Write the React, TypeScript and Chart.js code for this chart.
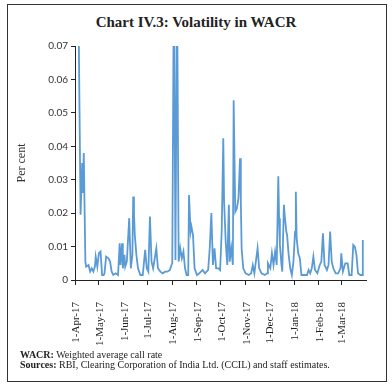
import React, { useEffect, useRef } from "react";
import { Chart, registerables } from "chart.js";

Chart.register(...registerables);

// Day offsets from 1-Apr-2017
const dayOffsets = [
  4, 7, 9, 10, 11, 13, 14, 17, 19, 21, 23, 25, 26, 28, 30, 32, 34, 36, 37, 39,
  42, 44, 46, 48, 51, 54, 56, 57, 59, 60, 62, 63, 65, 68, 70, 72, 73, 74, 75, 77,
  79, 82, 85, 88, 90, 92, 94, 96, 98, 102, 104, 107, 110, 113, 116, 119, 121, 122, 124, 126,
  128, 130, 132, 134, 136, 138, 140, 142, 143, 145, 146, 148, 150, 153, 156, 160, 163, 167, 169, 171,
  173, 175, 177, 180, 182, 184, 186, 187, 189, 191, 193, 194, 196, 198, 199, 201, 203, 205, 207, 208,
  209, 211, 214, 218, 221, 223, 225, 229, 231, 234, 238, 241, 242, 245, 247, 249, 251, 253, 255, 256,
  257, 259, 260, 262, 263, 265, 266, 268, 270, 272, 274, 276, 277, 278, 280, 282, 284, 288, 291, 293,
  295, 297, 299, 301, 304, 307, 309, 311, 313, 316, 318, 320, 322, 324, 327, 330, 333, 334, 336, 339,
  342, 344, 347, 349, 351, 353, 355, 358, 360, 361,
];

// Volatility in WACR (per cent)
const wacrVolatility = [
  0.09, 0.0195, 0.035, 0.026, 0.038, 0.0055, 0.004, 0.0045, 0.0025, 0.0035, 0.0025, 0.004, 0.007, 0.004, 0.008, 0.0085, 0.0015, 0.0015, 0.002, 0.007,
  0.0065, 0.0055, 0.0025, 0.0015, 0.002, 0.0015, 0.011, 0.0045, 0.011, 0.0035, 0.0075, 0.004, 0.0055, 0.0185, 0.0035, 0.0075, 0.025, 0.02, 0.0135, 0.0075,
  0.0035, 0.0015, 0.0015, 0.009, 0.0035, 0.0025, 0.019, 0.0055, 0.0035, 0.0095, 0.0035, 0.0025, 0.002, 0.0025, 0.0025, 0.003, 0.0045, 0.005, 0.09, 0.006,
  0.09, 0.0055, 0.0095, 0.0065, 0.0085, 0.0035, 0.0015, 0.0015, 0.0254, 0.0145, 0.016, 0.0135, 0.0035, 0.0015, 0.002, 0.003, 0.002, 0.003, 0.0095, 0.02,
  0.0045, 0.0095, 0.0035, 0.0035, 0.003, 0.0145, 0.0424, 0.0235, 0.0115, 0.0045, 0.0225, 0.0055, 0.0095, 0.0045, 0.0538, 0.0204, 0.0214, 0.0244, 0.0364, 0.0235,
  0.0095, 0.0035, 0.002, 0.0015, 0.002, 0.0045, 0.002, 0.0095, 0.0035, 0.002, 0.0015, 0.002, 0.005, 0.0035, 0.008, 0.0045, 0.0085, 0.0045, 0.031, 0.0185,
  0.0105, 0.0045, 0.0025, 0.0225, 0.0195, 0.0145, 0.0135, 0.0075, 0.0035, 0.0015, 0.0055, 0.0145, 0.0264, 0.0125, 0.008, 0.0065, 0.0015, 0.0015, 0.0015, 0.003,
  0.002, 0.0035, 0.007, 0.003, 0.002, 0.0045, 0.0055, 0.014, 0.0045, 0.003, 0.0045, 0.0145, 0.0055, 0.0035, 0.002, 0.002, 0.0035, 0.008, 0.0025, 0.005,
  0.005, 0.0015, 0.0015, 0.0105, 0.01, 0.0075, 0.002, 0.0015, 0.0015, 0.012,
];

const monthOffsets = [0, 30, 61, 91, 122, 153, 183, 214, 244, 275, 306, 334];
const monthLabels = [
  "1-Apr-17", "1-May-17", "1-Jun-17", "1-Jul-17", "1-Aug-17", "1-Sep-17",
  "1-Oct-17", "1-Nov-17", "1-Dec-17", "1-Jan-18", "1-Feb-18", "1-Mar-18",
];
const yTicks = [0, 0.01, 0.02, 0.03, 0.04, 0.05, 0.06, 0.07];

const W = 392;
const H = 387;

export default function App() {
  const ref = useRef<HTMLCanvasElement | null>(null);

  useEffect(() => {
    const canvas = ref.current;
    if (!canvas) return;
    const points = dayOffsets.map((d, i) => ({ x: d, y: wacrVolatility[i] }));
    const chart = new Chart(canvas, {
      type: "line",
      data: {
        datasets: [
          {
            data: points,
            borderColor: "#5b9bd5",
            borderWidth: 1.8,
            pointRadius: 0,
            tension: 0,
            fill: false,
          },
        ],
      },
      options: {
        animation: false,
        responsive: false,
        maintainAspectRatio: false,
        layout: { padding: { left: 13, top: 46, right: 26, bottom: 0 } },
        plugins: { legend: { display: false }, tooltip: { enabled: false }, title: { display: false } },
        scales: {
          x: {
            type: "linear",
            min: 0,
            max: 365,
            afterBuildTicks: (scale: any) => {
              scale.ticks = monthOffsets.map((v) => ({ value: v }));
            },
            afterFit: (scale: any) => {
              scale.height = H - 280;
            },
            grid: { drawOnChartArea: false, drawTicks: true, tickLength: 5, color: "#222" },
            border: { display: true, color: "#222", width: 1 },
            ticks: {
              autoSkip: false,
              minRotation: 90,
              maxRotation: 90,
              padding: 17,
              labelOffset: 1,
              color: "#222",
              font: { family: "'Liberation Serif', serif", size: 11 },
              callback: (v: any) => {
                const i = monthOffsets.indexOf(Number(v));
                return i >= 0 ? monthLabels[i] : "";
              },
            },
          },
          y: {
            min: 0,
            max: 0.07,
            afterBuildTicks: (scale: any) => {
              scale.ticks = yTicks.map((v) => ({ value: v }));
            },
            afterFit: (scale: any) => {
              scale.width = 62;
            },
            grid: { drawOnChartArea: false, drawTicks: true, tickLength: 4, color: "#222" },
            border: { display: true, color: "#222", width: 1 },
            title: {
              display: true,
              text: "Per cent",
              color: "#333",
              font: { family: "'Liberation Serif', serif", size: 12 },
              padding: { top: 2, bottom: 0 },
            },
            ticks: {
              padding: 3,
              color: "#333",
              font: { family: "Lato, 'Liberation Sans', sans-serif", size: 10 },
              callback: (v: any) => (Number(v) === 0 ? "0" : Number(v).toFixed(2)),
            },
          },
        },
      },
    });
    return () => chart.destroy();
  }, []);

  return (
    <div style={{ position: "fixed", left: 0, top: 0, width: W, height: H, background: "#fff", overflow: "hidden" }}>
      <div
        style={{
          position: "absolute",
          left: 7,
          top: 4,
          width: 378,
          height: 376,
          border: "1px solid #333",
        }}
      />
      <div
        style={{
          position: "absolute",
          left: 0,
          width: W,
          top: 13,
          textAlign: "center",
          fontFamily: "'Liberation Serif', serif",
          fontWeight: "bold",
          fontSize: 15,
          lineHeight: "18px",
          color: "#222",
        }}
      >
        Chart IV.3: Volatility in WACR
      </div>
      <canvas ref={ref} width={W} height={H} style={{ position: "absolute", left: 0, top: 0, width: W, height: H }} />
      <div
        style={{
          position: "absolute",
          left: 20,
          top: 350,
          fontFamily: "'Liberation Serif', serif",
          fontSize: 10,
          lineHeight: "10px",
          color: "#222",
          whiteSpace: "nowrap",
        }}
      >
        <div>
          <b>WACR:</b> Weighted average call rate
        </div>
        <div>
          <b>Sources:</b> RBI, Clearing Corporation of India Ltd. (CCIL) and staff estimates.
        </div>
      </div>
    </div>
  );
}
